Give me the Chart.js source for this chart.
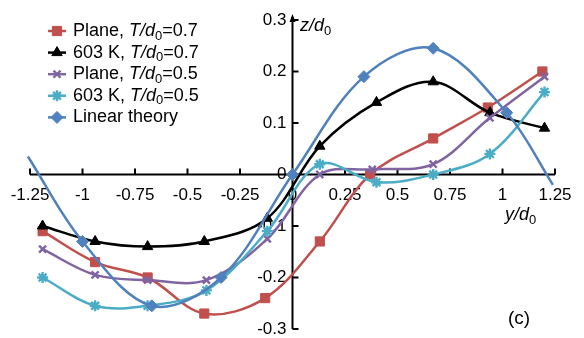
<!DOCTYPE html>
<html>
<head>
<meta charset="utf-8">
<script src="https://cdn.jsdelivr.net/npm/chart.js@4.4.1/dist/chart.umd.min.js"></script>
<style>
  html, body { margin: 0; padding: 0; background: #fff; }
  #wrap { width: 584px; height: 338px; }
</style>
</head>
<body>
<div id="wrap"><canvas id="chart" width="584" height="338"></canvas></div>
<script>
// tick labels
const xTicks = [-1.25, -1, -0.75, -0.5, -0.25, 0, 0.25, 0.5, 0.75, 1, 1.25];
const yTicks = [-0.3, -0.2, -0.1, 0, 0.1, 0.2, 0.3];

// Plane, T/d0=0.7
const planeA_x = [-1.19, -0.94, -0.69, -0.42, -0.13, 0.13, 0.37, 0.67, 0.93, 1.19];
const planeA_y = [-0.11, -0.17, -0.20, -0.27, -0.24, -0.13, 0.0, 0.07, 0.13, 0.20];

// 603 K, T/d0=0.7
const k603A_x = [-1.19, -0.94, -0.69, -0.42, -0.12, 0.13, 0.40, 0.67, 0.94, 1.20];
const k603A_y = [-0.10, -0.13, -0.14, -0.13, -0.085, 0.055, 0.14, 0.18, 0.12, 0.09];

// Plane, T/d0=0.5
const planeB_x = [-1.19, -0.94, -0.69, -0.41, -0.12, 0.13, 0.38, 0.67, 0.94, 1.20];
const planeB_y = [-0.145, -0.195, -0.205, -0.205, -0.125, 0.0, 0.01, 0.02, 0.11, 0.19];

// 603 K, T/d0=0.5
const k603B_x = [-1.19, -0.94, -0.69, -0.41, -0.12, 0.13, 0.40, 0.67, 0.94, 1.20];
const k603B_y = [-0.20, -0.255, -0.255, -0.225, -0.11, 0.02, -0.015, 0.0, 0.04, 0.16];

// Linear theory (first and last entries are the curve ends, no marker)
const theory_x = [-1.26, -1.0, -0.67, -0.34, 0, 0.34, 0.67, 1.02, 1.24];
const theory_y = [0.035, -0.13, -0.255, -0.20, 0, 0.19, 0.245, 0.12, -0.02];

const FONT = '"Liberation Sans", Arial, sans-serif';

function pts(xs, ys) {
  return xs.map((x, i) => ({ x: x, y: ys[i] }));
}

function series(label, xs, ys, color, style, radius) {
  return {
    label: label,
    data: pts(xs, ys),
    borderColor: color,
    backgroundColor: color,
    borderWidth: 2.5,
    pointStyle: style,
    pointRadius: radius,
    pointBorderWidth: (style === 'crossRot' || style === 'star') ? 2.4 : 1,
    pointBorderColor: color,
    pointBackgroundColor: color,
    tension: 0.35,
    fill: false,
    clip: false
  };
}

const lastTheory = theory_x.length - 1;
const theorySet = series('Linear theory', theory_x, theory_y, '#4F81BD', 'rectRot', 6);
theorySet.pointRadius = c => (c.dataIndex === 0 || c.dataIndex === lastTheory) ? 0 : 6;

const datasets = [
  theorySet,
  series('603 K, T/d0=0.5', k603B_x, k603B_y, '#4BACC6', 'star', 5.5),
  series('Plane, T/d0=0.5', planeB_x, planeB_y, '#8064A2', 'crossRot', 5),
  series('603 K, T/d0=0.7', k603A_x, k603A_y, '#000000', 'triangle', 6),
  series('Plane, T/d0=0.7', planeA_x, planeA_y, '#C0504D', 'rect', 6.5)
];

// draw text made of plain / italic / subscript pieces
function drawRich(ctx, parts, x, y, size) {
  ctx.textBaseline = 'middle';
  ctx.textAlign = 'left';
  parts.forEach(p => {
    const s = p.sub ? Math.round(size * 0.72) : size;
    ctx.font = (p.it ? 'italic ' : '') + s + 'px ' + FONT;
    ctx.fillText(p.t, x, y + (p.sub ? size * 0.28 : 0));
    x += ctx.measureText(p.t).width;
  });
}

const legendItems = [
  { parts: [{ t: 'Plane, ' }, { t: 'T/d', it: true }, { t: '0', sub: true }, { t: '=0.7' }], color: '#C0504D', style: 'rect', r: 6.5 },
  { parts: [{ t: '603 K, ' }, { t: 'T/d', it: true }, { t: '0', sub: true }, { t: '=0.7' }], color: '#000000', style: 'triangle', r: 6 },
  { parts: [{ t: 'Plane, ' }, { t: 'T/d', it: true }, { t: '0', sub: true }, { t: '=0.5' }], color: '#8064A2', style: 'crossRot', r: 5 },
  { parts: [{ t: '603 K, ' }, { t: 'T/d', it: true }, { t: '0', sub: true }, { t: '=0.5' }], color: '#4BACC6', style: 'star', r: 5.5 },
  { parts: [{ t: 'Linear theory' }], color: '#4F81BD', style: 'rectRot', r: 6 }
];

const axesPlugin = {
  id: 'axesPlugin',
  beforeDatasetsDraw(chart) {
    const ctx = chart.ctx;
    const xs = chart.scales.x;
    const ys = chart.scales.y;
    const x0 = xs.getPixelForValue(0);
    const y0 = ys.getPixelForValue(0);
    const xl = xs.getPixelForValue(-1.25);
    const xr = xs.getPixelForValue(1.25);
    const yt = ys.getPixelForValue(0.3);
    const yb = ys.getPixelForValue(-0.3);
    ctx.save();
    ctx.strokeStyle = '#000';
    ctx.fillStyle = '#000';
    ctx.lineWidth = 2;
    ctx.beginPath();
    ctx.moveTo(xl, y0); ctx.lineTo(xr, y0);
    ctx.moveTo(x0, yb); ctx.lineTo(x0, yt - 3);
    xTicks.forEach(v => {
      const px = xs.getPixelForValue(v);
      ctx.moveTo(px, y0); ctx.lineTo(px, y0 - 6);
    });
    yTicks.forEach(v => {
      const py = ys.getPixelForValue(v);
      ctx.moveTo(x0, py); ctx.lineTo(x0 + 6, py);
    });
    ctx.stroke();
    // arrow head on the y axis
    ctx.beginPath();
    ctx.moveTo(x0, yt - 6); ctx.lineTo(x0 - 3, yt + 2); ctx.lineTo(x0 + 3, yt + 2);
    ctx.closePath();
    ctx.fill();

    ctx.font = '17px ' + FONT;
    ctx.textBaseline = 'middle';
    ctx.textAlign = 'center';
    xTicks.forEach(v => {
      ctx.fillText(String(v), xs.getPixelForValue(v), y0 + 21);
    });
    ctx.textAlign = 'right';
    yTicks.forEach(v => {
      ctx.fillText(String(v), x0 - 6, ys.getPixelForValue(v));
    });
    ctx.restore();
  },
  afterDraw(chart) {
    const ctx = chart.ctx;
    ctx.save();
    ctx.fillStyle = '#000';
    drawRich(ctx, [{ t: 'z/d', it: true }, { t: '0', sub: true }], 300, 26, 18);
    drawRich(ctx, [{ t: 'y/d', it: true }, { t: '0', sub: true }], 505, 215, 18);
    drawRich(ctx, [{ t: '(c)' }], 508, 319, 19);

    legendItems.forEach((it, i) => {
      const y = 31 + i * 21.6;
      ctx.strokeStyle = it.color;
      ctx.fillStyle = it.color;
      ctx.lineWidth = 2.5;
      ctx.beginPath();
      ctx.moveTo(48, y); ctx.lineTo(66, y);
      ctx.stroke();
      ctx.lineWidth = (it.style === 'crossRot' || it.style === 'star') ? 2.4 : 1;
      Chart.helpers.drawPoint(ctx, { pointStyle: it.style, radius: it.r, rotation: 0, borderWidth: ctx.lineWidth }, 57, y);
      ctx.fillStyle = '#000';
      drawRich(ctx, it.parts, 73, y, 18);
    });
    ctx.restore();
  }
};

new Chart(document.getElementById('chart'), {
  type: 'line',
  data: { datasets: datasets },
  options: {
    responsive: false,
    animation: false,
    devicePixelRatio: 1,
    layout: { padding: { left: 25.8, right: 24.8, top: 20, bottom: 9 } },
    plugins: { legend: { display: false }, tooltip: { enabled: false } },
    scales: {
      x: { type: 'linear', min: -1.27, max: 1.27, display: false },
      y: { type: 'linear', min: -0.3, max: 0.3, display: false }
    }
  },
  plugins: [axesPlugin]
});
</script>
</body>
</html>
